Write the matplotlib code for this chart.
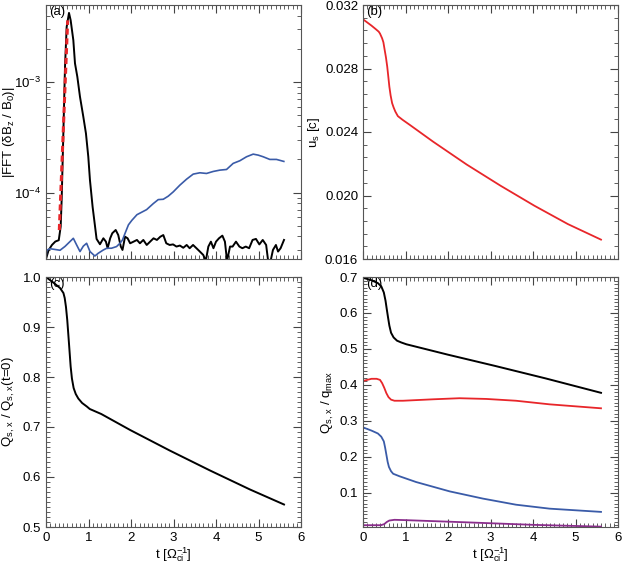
import numpy as np
import matplotlib.pyplot as plt
from matplotlib.ticker import AutoMinorLocator, MultipleLocator, LogLocator, NullFormatter, FixedLocator

plt.rcParams['font.family'] = ['Liberation Sans', 'DejaVu Sans']
plt.rcParams['mathtext.fontset'] = 'custom'
plt.rcParams['mathtext.rm'] = 'Liberation Sans'
plt.rcParams['mathtext.it'] = 'Liberation Sans'

# panel (a): |FFT| amplitudes
t_black = [0.0, 0.06, 0.14, 0.22, 0.30, 0.345, 0.368, 0.408, 0.447, 0.486, 0.541, 0.580, 0.643,
           0.682, 0.737, 0.799, 0.878, 0.940, 0.995, 1.034, 1.097, 1.152, 1.19, 1.27, 1.35, 1.41,
           1.45, 1.51, 1.56, 1.64, 1.70, 1.76, 1.80, 1.86, 1.92, 1.98, 2.06, 2.14, 2.21, 2.29, 2.37,
           2.45, 2.53, 2.61, 2.69, 2.76, 2.83, 2.91, 2.99, 3.07, 3.15, 3.23, 3.31, 3.38, 3.46, 3.54,
           3.62, 3.70, 3.76, 3.82, 3.88, 3.94, 4.00, 4.07, 4.15, 4.21, 4.26, 4.33, 4.39, 4.47, 4.55,
           4.62, 4.70, 4.78, 4.86, 4.94, 5.02, 5.10, 5.18, 5.23, 5.28, 5.34, 5.41, 5.46, 5.52, 5.60]
amp_black = [2.5e-5, 3.0e-5, 3.35e-5, 3.6e-5, 3.7e-5, 4.9e-5, 8.5e-5, 3.4e-4, 1.37e-3, 3.16e-3,
             4.24e-3, 3.64e-3, 2.40e-3, 1.48e-3, 1.12e-3, 7.4e-4, 4.86e-4, 3.43e-4, 2.11e-4, 1.30e-4,
             7.4e-5, 5.0e-5, 3.8e-5, 3.40e-5, 3.85e-5, 3.59e-5, 3.13e-5, 3.85e-5, 4.28e-5, 4.58e-5,
             4.12e-5, 3.24e-5, 3.02e-5, 3.98e-5, 3.85e-5, 3.47e-5, 3.59e-5, 3.72e-5, 3.47e-5, 3.72e-5,
             3.35e-5, 3.59e-5, 3.85e-5, 3.72e-5, 3.98e-5, 4.12e-5, 3.47e-5, 3.35e-5, 3.39e-5, 3.24e-5,
             3.31e-5, 3.16e-5, 3.35e-5, 3.13e-5, 3.35e-5, 3.13e-5, 2.92e-5, 2.72e-5, 2.4e-5, 3.24e-5,
             3.59e-5, 3.13e-5, 3.59e-5, 3.85e-5, 4.07e-5, 3.59e-5, 2.4e-5, 3.24e-5, 3.24e-5, 3.59e-5,
             3.24e-5, 3.13e-5, 3.24e-5, 3.13e-5, 3.72e-5, 3.80e-5, 3.39e-5, 3.72e-5, 3.35e-5, 2.35e-5,
             2.35e-5, 3.02e-5, 3.35e-5, 2.92e-5, 3.13e-5, 3.72e-5]

t_blue = [0.0, 0.016, 0.094, 0.33, 0.447, 0.643, 0.721, 0.80, 0.878, 0.956, 1.035, 1.15, 1.23,
          1.35, 1.43, 1.54, 1.66, 1.74, 1.80, 1.86, 1.94, 2.02, 2.14, 2.367, 2.524, 2.641, 2.759,
          2.876, 2.994, 3.150, 3.307, 3.464, 3.621, 3.777, 3.934, 4.091, 4.248, 4.404, 4.561, 4.718,
          4.875, 4.992, 5.110, 5.266, 5.423, 5.596]
amp_blue = [2.5e-5, 3.0e-5, 3.1e-5, 3.0e-5, 3.25e-5, 3.85e-5, 3.35e-5, 2.92e-5, 3.27e-5, 3.47e-5,
            2.92e-5, 2.66e-5, 2.82e-5, 3.02e-5, 3.13e-5, 3.13e-5, 3.24e-5, 3.47e-5, 3.72e-5, 4.27e-5,
            5.1e-5, 5.6e-5, 6.3e-5, 7.0e-5, 7.94e-5, 8.63e-5, 8.69e-5, 9.27e-5, 1.014e-4, 1.167e-4,
            1.321e-4, 1.469e-4, 1.510e-4, 1.489e-4, 1.552e-4, 1.596e-4, 1.618e-4, 1.837e-4, 1.941e-4,
            2.109e-4, 2.228e-4, 2.183e-4, 2.109e-4, 1.995e-4, 1.995e-4, 1.914e-4]

t_fit = [0.313, 0.51]
amp_fit = [4.57e-5, 3.63e-3]

# panel (b): u_s
t_us = [0.0, 0.1, 0.2, 0.3, 0.37, 0.40, 0.45, 0.48, 0.51, 0.54, 0.57, 0.595, 0.62, 0.65, 0.685,
        0.72, 0.76, 0.82, 0.93, 1.1, 1.65, 2.44, 3.24, 4.03, 4.82, 5.6]
u_s = [0.0311, 0.0309, 0.0307, 0.03048, 0.03032, 0.0302, 0.0299, 0.02965, 0.02917, 0.0287,
       0.02812, 0.0275, 0.02686, 0.0263, 0.02582, 0.02555, 0.02529, 0.0250, 0.02477, 0.02445,
       0.02339, 0.02195, 0.02061, 0.01936, 0.01820, 0.01722]

# panel (c): normalised heat flux
t_qc = [0.0, 0.17, 0.33, 0.41, 0.44, 0.47, 0.50, 0.54, 0.58, 0.61, 0.65, 0.70, 0.76, 0.85, 0.96,
        1.03, 1.3, 1.98, 2.91, 3.86, 4.80, 5.6]
q_c = [1.0, 0.989, 0.978, 0.968, 0.958, 0.940, 0.914, 0.868, 0.821, 0.797, 0.778, 0.766, 0.757,
       0.748, 0.741, 0.736, 0.726, 0.694, 0.653, 0.613, 0.575, 0.545]

# panel (d): heat flux contributions
t_d1 = [0.0, 0.2, 0.35, 0.43, 0.49, 0.53, 0.56, 0.59, 0.62, 0.66, 0.72, 0.80, 0.90, 1.02, 2.0,
        3.1, 4.3, 5.6]
q_d1 = [0.698, 0.691, 0.683, 0.674, 0.657, 0.634, 0.610, 0.587, 0.565, 0.545, 0.532, 0.523,
        0.518, 0.513, 0.484, 0.453, 0.418, 0.378]
t_d2 = [0.0, 0.1, 0.2, 0.32, 0.40, 0.45, 0.50, 0.55, 0.60, 0.66, 0.74, 0.94, 1.65, 2.27, 2.9,
        3.6, 4.39, 5.6]
q_d2 = [0.411, 0.414, 0.417, 0.417, 0.414, 0.405, 0.392, 0.377, 0.366, 0.359, 0.356, 0.356,
        0.360, 0.363, 0.361, 0.356, 0.346, 0.335]
t_d3 = [0.0, 0.2, 0.35, 0.43, 0.49, 0.52, 0.55, 0.58, 0.61, 0.66, 0.71, 0.86, 1.25, 2.04, 2.82,
        3.6, 4.39, 5.6]
q_d3 = [0.282, 0.273, 0.265, 0.256, 0.243, 0.226, 0.206, 0.186, 0.172, 0.160, 0.153, 0.146,
        0.130, 0.104, 0.084, 0.067, 0.056, 0.047]
t_d4 = [0.0, 0.42, 0.50, 0.56, 0.62, 0.74, 1.02, 2.43, 4.0, 5.6]
q_d4 = [0.010, 0.010, 0.013, 0.019, 0.023, 0.025, 0.024, 0.018, 0.011, 0.006]

RED = '#e8262a'
BLUE = '#3a5ba8'
PURPLE = '#8a2d8c'
FS = 9.5

fig = plt.figure(figsize=(6.23, 5.73), dpi=100)
W, H = 623.0, 573.0
pos = {
    'a': [46 / W, 1 - 259 / H, 255 / W, 254 / H],
    'b': [363 / W, 1 - 259 / H, 255 / W, 254 / H],
    'c': [46 / W, 1 - 527 / H, 255 / W, 250 / H],
    'd': [363 / W, 1 - 527 / H, 255 / W, 250 / H],
}
axs = {k: fig.add_axes(v) for k, v in pos.items()}


def style(ax, bottom_labels):
    ax.set_xlim(0, 6)
    ax.xaxis.set_major_locator(MultipleLocator(1))
    ax.xaxis.set_minor_locator(MultipleLocator(0.1))
    ax.tick_params(which='both', direction='in', top=True, right=True, labelsize=FS, colors='#444444',
                   labelcolor='black')
    ax.tick_params(which='major', length=6, width=0.8)
    ax.tick_params(which='minor', length=3, width=0.6)
    for s in ax.spines.values():
        s.set_color('#555555')
        s.set_linewidth(0.8)
    if bottom_labels:
        ax.set_xlabel(r't [$\Omega_{ci}^{-1}$]', fontsize=FS, labelpad=1)
    else:
        ax.tick_params(labelbottom=False)


# (a)
ax = axs['a']
ax.plot(t_black, amp_black, color='black', lw=1.4)
ax.plot(t_fit, amp_fit, color=RED, lw=2.2, ls=(0, (2, 1.2)))
ax.plot(t_blue, amp_blue, color=BLUE, lw=1.2)
ax.set_yscale('log')
ax.set_ylim(2.5e-5, 5.0e-3)
ax.yaxis.set_major_locator(FixedLocator([1e-4, 1e-3]))
ax.yaxis.set_minor_locator(LogLocator(base=10, subs=np.arange(2, 10)))
ax.yaxis.set_minor_formatter(NullFormatter())
ax.set_yticklabels([r'10$^{-4}$', r'10$^{-3}$'])
style(ax, False)
ax.set_ylabel(r'|FFT ($\delta$B$_z$ / B$_0$)|', fontsize=FS)
ax.yaxis.set_label_coords(-0.115, 0.5)

# (b)
ax = axs['b']
ax.plot(t_us, u_s, color=RED, lw=1.3)
ax.set_ylim(0.016, 0.032)
ax.yaxis.set_major_locator(MultipleLocator(0.004))
ax.yaxis.set_minor_locator(AutoMinorLocator(5))
ax.yaxis.set_major_formatter(plt.FuncFormatter(lambda v, p: '%.3f' % v))
style(ax, False)
ax.set_ylabel(r'u$_s$ [c]', fontsize=FS)
ax.yaxis.set_label_coords(-0.16, 0.5)

# (c)
ax = axs['c']
ax.plot(t_qc, q_c, color='black', lw=1.4)
ax.set_ylim(0.5, 1.0)
ax.yaxis.set_major_locator(MultipleLocator(0.1))
ax.yaxis.set_minor_locator(AutoMinorLocator(10))
ax.yaxis.set_major_formatter(plt.FuncFormatter(lambda v, p: '%.1f' % v))
style(ax, True)
ax.set_ylabel(r'Q$_{s,\,x}$ / Q$_{s,\,x}$(t=0)', fontsize=FS)
ax.yaxis.set_label_coords(-0.115, 0.5)

# (d)
ax = axs['d']
ax.plot(t_d1, q_d1, color='black', lw=1.4)
ax.plot(t_d2, q_d2, color=RED, lw=1.3)
ax.plot(t_d3, q_d3, color=BLUE, lw=1.3)
ax.plot(t_d4, q_d4, color=PURPLE, lw=1.3)
ax.set_ylim(0.005, 0.70)
ax.yaxis.set_major_locator(FixedLocator([0.1, 0.2, 0.3, 0.4, 0.5, 0.6, 0.7]))
ax.yaxis.set_minor_locator(MultipleLocator(0.01))
ax.yaxis.set_major_formatter(plt.FuncFormatter(lambda v, p: '%.1f' % v))
style(ax, True)
ax.set_ylabel(r'Q$_{s,\,x}$ / q$_{max}$', fontsize=FS)
ax.yaxis.set_label_coords(-0.105, 0.5)

for k in 'abcd':
    axs[k].text(0.012, 0.995, '(%s)' % k, transform=axs[k].transAxes, fontsize=FS, va='top', ha='left')

fig.savefig('out.png', dpi=100)
